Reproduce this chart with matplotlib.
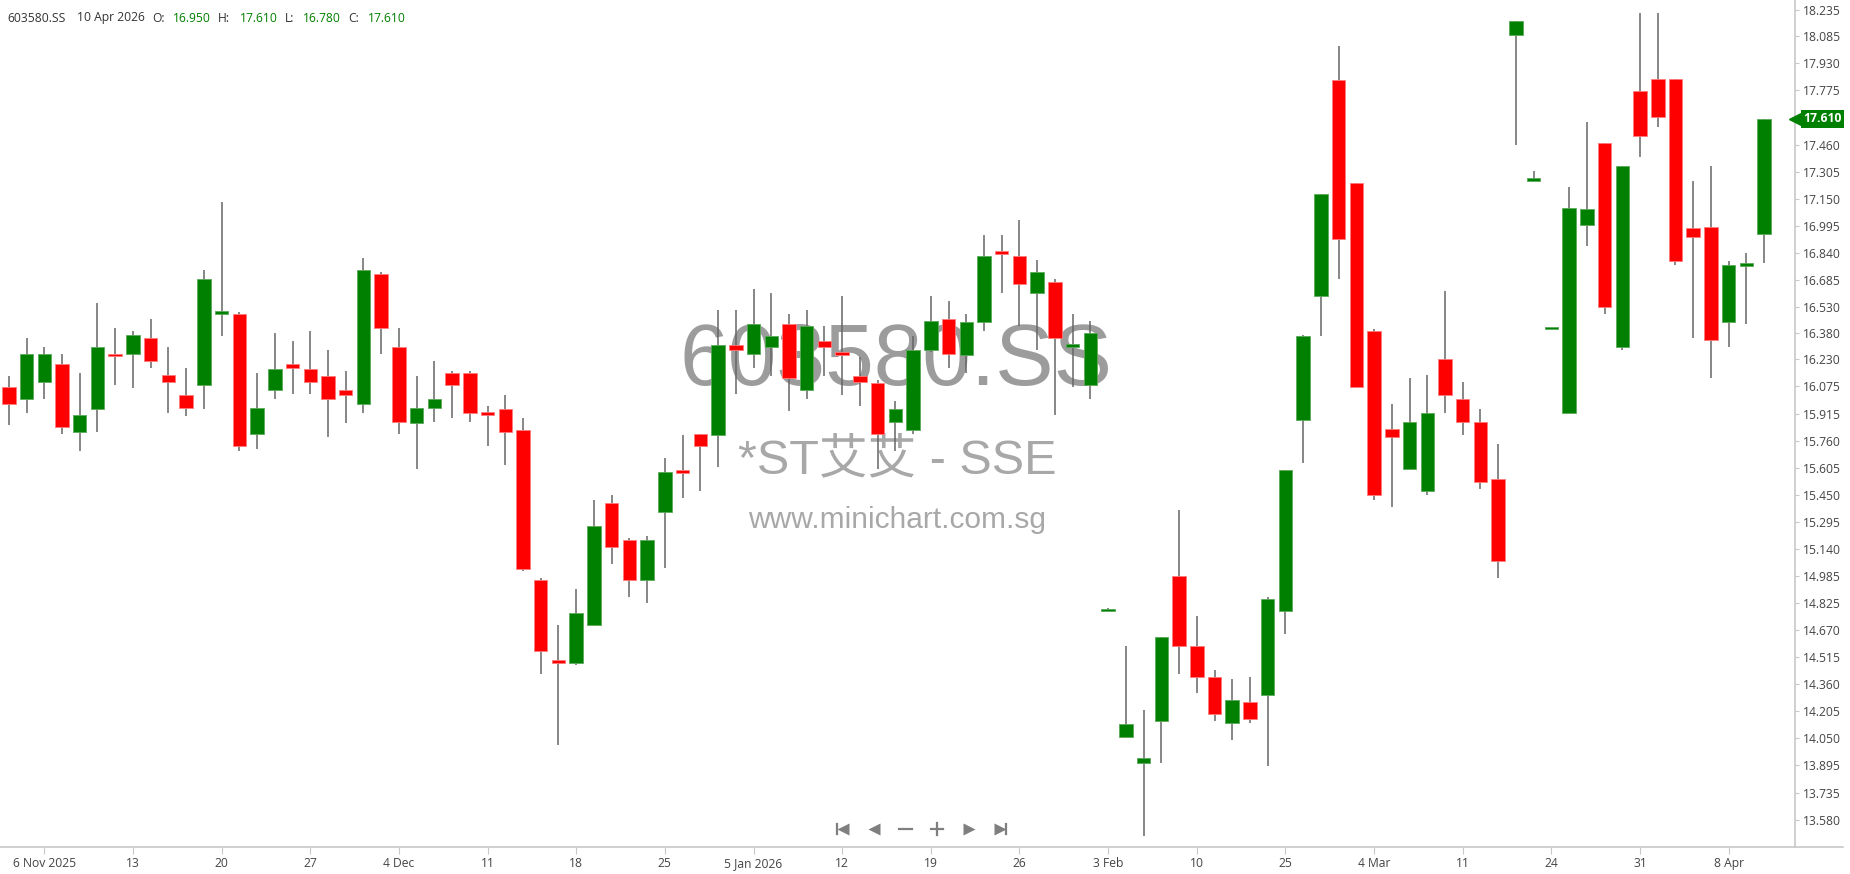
import numpy as np
import matplotlib
matplotlib.use("Agg")
import matplotlib.pyplot as plt
import matplotlib.transforms as mtrans

# Daily OHLC, 603580.SS, 4 Nov 2025 .. 10 Apr 2026 (one entry per candle slot)
opens = [16.07, 16.00, 16.10, 16.20, 15.81, 15.94, 16.255, 16.26, 16.35, 16.14,
         16.02, 16.08, 16.49, 16.49, 15.80, 16.05, 16.20, 16.17, 16.13, 16.05,
         15.97, 16.72, 16.30, 15.86, 15.95, 16.15, 16.15, 15.925, 15.94, 15.82,
         14.96, 14.50, 14.48, 14.70, 15.40, 15.19, 14.96, 15.35, 15.58, 15.80,
         15.79, 16.31, 16.26, 16.30, 16.43, 16.05, 16.33, 16.265, 16.13, 16.09,
         15.87, 15.82, 16.28, 16.46, 16.25, 16.44, 16.845, 16.82, 16.61, 16.67,
         16.30, 16.08, 14.78, 14.06, 13.91, 14.15, 14.98, 14.58, 14.40, 14.14,
         14.26, 14.30, 14.78, 15.88, 16.59, 17.83, 17.24, 16.39, 15.83, 15.60,
         15.47, 16.23, 16.00, 15.87, 15.54, 18.09, 17.255, 16.40, 15.92, 17.00,
         17.47, 16.30, 17.77, 17.84, 17.84, 16.98, 16.99, 16.44, 16.765, 16.95]
highs = [16.13, 16.35, 16.30, 16.26, 16.15, 16.55, 16.41, 16.39, 16.46, 16.30,
         16.18, 16.74, 17.13, 16.50, 16.15, 16.38, 16.33, 16.39, 16.28, 16.16,
         16.81, 16.73, 16.41, 16.13, 16.22, 16.16, 16.16, 15.96, 16.02, 15.89,
         14.97, 14.70, 14.91, 15.42, 15.45, 15.20, 15.21, 15.66, 15.79, 15.80,
         16.51, 16.51, 16.63, 16.61, 16.49, 16.51, 16.42, 16.59, 16.24, 16.11,
         15.99, 16.36, 16.59, 16.56, 16.49, 16.94, 16.94, 17.03, 16.80, 16.69,
         16.49, 16.45, 14.80, 14.58, 14.21, 14.63, 15.36, 14.75, 14.44, 14.39,
         14.40, 14.86, 15.59, 16.37, 17.18, 18.03, 17.24, 16.40, 15.97, 16.12,
         16.14, 16.62, 16.10, 15.94, 15.74, 18.17, 17.31, 16.41, 17.22, 17.59,
         17.47, 17.34, 18.22, 18.22, 17.84, 17.25, 17.34, 16.79, 16.84, 17.61]
lows = [15.85, 15.92, 16.00, 15.80, 15.70, 15.81, 16.08, 16.06, 16.18, 15.92,
        15.90, 15.94, 16.36, 15.70, 15.71, 16.00, 16.03, 16.03, 15.78, 15.86,
        15.92, 16.26, 15.80, 15.60, 15.87, 15.89, 15.87, 15.73, 15.62, 15.01,
        14.42, 14.01, 14.47, 14.70, 15.05, 14.86, 14.83, 15.03, 15.43, 15.47,
        15.61, 16.03, 16.18, 16.13, 15.93, 16.00, 16.13, 16.02, 15.96, 15.60,
        15.70, 15.80, 16.27, 16.18, 16.15, 16.39, 16.61, 16.42, 16.28, 15.91,
        16.07, 16.00, 14.78, 14.06, 13.49, 13.91, 14.42, 14.31, 14.15, 14.04,
        14.14, 13.89, 14.65, 15.63, 16.36, 16.69, 16.07, 15.42, 15.38, 15.60,
        15.45, 15.92, 15.79, 15.48, 14.97, 17.46, 17.255, 16.40, 15.92, 16.88,
        16.49, 16.28, 17.39, 17.56, 16.77, 16.35, 16.12, 16.30, 16.43, 16.78]
closes = [15.97, 16.26, 16.26, 15.84, 15.91, 16.30, 16.245, 16.37, 16.22, 16.10,
          15.95, 16.69, 16.50, 15.73, 15.95, 16.17, 16.18, 16.10, 16.00, 16.02,
          16.74, 16.41, 15.87, 15.95, 16.00, 16.08, 15.92, 15.91, 15.81, 15.02,
          14.55, 14.48, 14.77, 15.27, 15.15, 14.96, 15.19, 15.58, 15.575, 15.73,
          16.31, 16.28, 16.43, 16.36, 16.12, 16.42, 16.30, 16.255, 16.10, 15.80,
          15.94, 16.28, 16.45, 16.26, 16.44, 16.82, 16.835, 16.66, 16.73, 16.35,
          16.305, 16.38, 14.79, 14.13, 13.935, 14.63, 14.58, 14.40, 14.19, 14.27,
          14.16, 14.85, 15.59, 16.36, 17.18, 16.92, 16.07, 15.45, 15.78, 15.87,
          15.92, 16.02, 15.87, 15.52, 15.07, 18.17, 17.26, 16.405, 17.10, 17.09,
          16.53, 17.34, 17.51, 17.62, 16.79, 16.93, 16.34, 16.77, 16.77, 17.61]

# x tick labels, one every 5 trading days starting at slot 2
date_labels = ["6 Nov 2025", "13", "20", "27", "4 Dec", "11", "18", "25",
               "5 Jan 2026", "12", "19", "26", "3 Feb", "10", "25", "4 Mar",
               "11", "24", "31", "8 Apr"]
price_labels = ["18.235", "18.085", "17.930", "17.775", "17.460", "17.305",
                "17.150", "16.995", "16.840", "16.685", "16.530", "16.380",
                "16.230", "16.075", "15.915", "15.760", "15.605", "15.450",
                "15.295", "15.140", "14.985", "14.825", "14.670", "14.515",
                "14.360", "14.205", "14.050", "13.895", "13.735", "13.580"]

symbol = "603580.SS"
name = "*ST艾艾 - SSE"
last_date = "10 Apr 2026"

W, H = 1850, 874
fig = plt.figure(figsize=(W / 100, H / 100), dpi=100)
ax = fig.add_axes([0, 1 - 847 / H, 1795 / W, 847 / H])

o = np.array(opens); h = np.array(highs); l = np.array(lows); c = np.array(closes)
x = np.arange(len(o))
up = c >= o
green, red = "#008000", "#ff0000"

# Watermark (behind candles)
wm_font = ["Liberation Sans", "Noto Sans CJK SC", "DejaVu Sans"]
ax.text(0.4993, 0.5715, symbol, transform=ax.transAxes, ha="center", va="center",
        fontsize=63, color="#9c9c9c", family=wm_font, zorder=0)
ax.text(0.4998, 0.4555, name, transform=ax.transAxes, ha="center", va="center",
        fontsize=35, color="#a8a8a8", family=wm_font, zorder=0)
ax.text(0.4995, 0.3860, "www.minichart.com.sg", transform=ax.transAxes,
        ha="center", va="center", fontsize=21.5, color="#a8a8a8",
        family=wm_font, zorder=0)

# Candles
ax.vlines(x, l, h, color="#666666", linewidth=1.1, zorder=2)
body_low = np.minimum(o, c)
body_h = np.maximum(np.abs(c - o), 0.014)
colors = np.where(up, green, red)
edges = np.where(up, "#5aa95a", "#ff7a7a")
ax.bar(x, body_h, bottom=body_low, width=0.76, color=colors,
       edgecolor=edges, linewidth=0.6, zorder=3)

ax.set_xlim(-0.4986, 100.74)
ax.set_ylim(13.425, 18.2925)

# Axes styling
for s in ["top", "left"]:
    ax.spines[s].set_visible(False)
ax.spines["right"].set_color("#c8c8c8")
ax.spines["bottom"].set_color("#c8c8c8")
ax.spines["right"].set_linewidth(1.2)
ax.spines["bottom"].set_linewidth(1.2)

tick_font = "Open Sans"
fs = 8.7
ax.yaxis.tick_right()
ax.set_yticks([float(s) for s in price_labels])
ax.set_yticklabels(price_labels, fontsize=fs, color="#444444", family=tick_font)
ax.tick_params(axis="y", length=3, width=0.8, color="#c8c8c8", pad=3)

ax.set_xticks(np.arange(2, 2 + 5 * len(date_labels), 5))
ax.set_xticklabels(date_labels, fontsize=fs, color="#444444", family=tick_font)
ax.tick_params(axis="x", length=5, width=0.8, color="#c8c8c8", pad=2)

# Bottom rule continues under the price scale
fig.add_artist(plt.Line2D([1795 / W, 1843 / W], [1 - 847 / H, 1 - 847 / H],
                          color="#c8c8c8", linewidth=1.2))

# Last price marker on the price scale
blend = mtrans.blended_transform_factory(ax.transAxes, ax.transData)
ax.plot([1.0], [c[-1]], marker="<", markersize=9, color=green, transform=blend,
        clip_on=False, zorder=5)
ax.annotate(f"{c[-1]:.3f}", xy=(1.0, c[-1]), xycoords=blend, xytext=(6, 0),
            textcoords="offset points", ha="left", va="center", fontsize=fs,
            color="white", fontweight="bold", family=tick_font,
            bbox=dict(boxstyle="square,pad=0.2", fc=green, ec="none"),
            annotation_clip=False, zorder=6)

# Header line
hy = 1 - 18 / H
hdr = [(7, symbol, "#333333"), (77, last_date, "#333333"),
       (152, "O:", "#333333"), (173, f"{opens[-1]:.3f}", green),
       (218, "H:", "#333333"), (240, f"{highs[-1]:.3f}", green),
       (285, "L:", "#333333"), (303, f"{lows[-1]:.3f}", green),
       (348, "C:", "#333333"), (368, f"{closes[-1]:.3f}", green)]
for px, txt, col in hdr:
    fig.text(px / W, hy, txt, ha="left", va="center", fontsize=fs,
             color=col, family=tick_font)

# Navigation buttons
ov = fig.add_axes([0, 0, 1, 1])
ov.set_xlim(0, W)
ov.set_ylim(H, 0)
ov.axis("off")
nav = "#7f7f7f"
ny = 829
ov.plot([837, 837], [ny - 5, ny + 5], color=nav, lw=1.6)
ov.plot([843], [ny], marker="<", ms=8, color=nav, mec="none")
ov.plot([874], [ny], marker="<", ms=8, color=nav, mec="none")
ov.plot([899, 912], [ny, ny], color=nav, lw=1.6)
ov.plot([931, 943], [ny, ny], color=nav, lw=1.6)
ov.plot([937, 937], [ny - 6, ny + 6], color=nav, lw=1.6)
ov.plot([969], [ny], marker=">", ms=8, color=nav, mec="none")
ov.plot([1000], [ny], marker=">", ms=8, color=nav, mec="none")
ov.plot([1006, 1006], [ny - 5, ny + 5], color=nav, lw=1.6)

fig.savefig("out.png", dpi=100, facecolor="white")
